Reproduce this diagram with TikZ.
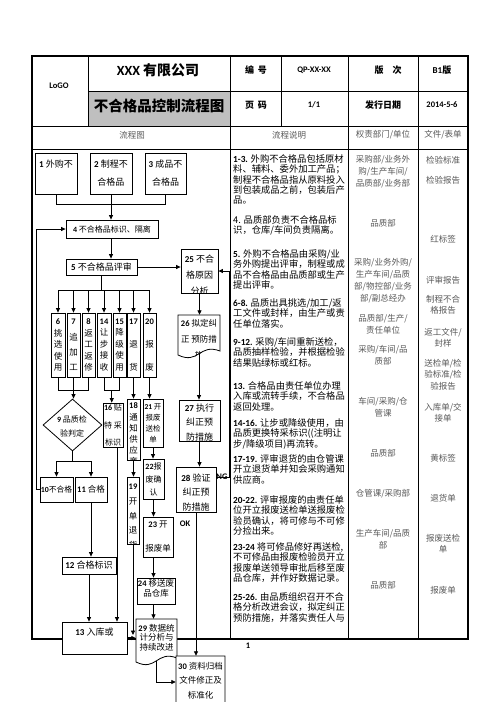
\documentclass[tikz,border=0pt]{standalone}
\usepackage{fontspec}
\setmainfont{Noto Sans CJK SC}
\newfontfamily\lat{Carlito}
\usetikzlibrary{arrows.meta,calc,shapes.geometric}
\newcommand\nb[1]{{\lat\bfseries #1}}
\newcommand\fs[2]{\fontsize{#1}{#2}\selectfont}
\newcommand\docpath[4]{(#1,#2) -- (#3,#2) -- (#3,#4-4) .. controls ({(#1+#3)/2},#4-12) and ({(#1+#3)/2},#4+10) .. (#1,#4) -- cycle}
\newcommand\boxlines[5]{\foreach \t [count=\i from 0] in {#5} \node[txt, font=#4] at (#1, #2+#3*\i) {\t};}
\begin{document}
\begin{tikzpicture}[x=1pt,y=-1pt,
  tl/.style={line width=0.9pt},
  box/.style={draw, fill=white, line width=0.8pt, inner sep=0pt, align=center},
  hid/.style={inner sep=0pt},
  arr/.style={line width=0.8pt, -{Triangle[length=4.5pt,width=4pt]}},
  ln/.style={line width=0.8pt},
  txt/.style={inner sep=0pt, align=center},
  desc/.style={anchor=north west, inner sep=0pt, align=left, font=\fs{9.3}{10.3}},
  dept/.style={anchor=north, inner sep=0pt, align=center, text=black!65, font=\fs{8.5}{12}},
  fil/.style={anchor=north, inner sep=0pt, align=center, text=black!65, font=\fs{8.5}{11.5}},
  colh/.style={inner sep=0pt, text=black!65, font=\fs{8.5}{10}},
  hd/.style={inner sep=0pt, font=\bfseries\fs{9}{10}},
  hdl/.style={inner sep=0pt, font=\lat\bfseries\fs{8.5}{10}},
]
\useasboundingbox (0,0) rectangle (496,702);
\clip (0,0) rectangle (496,702);
\fill[white] (0,0) rectangle (496,702);

% ---------- table ----------
\fill[black!25] (88,91) rectangle (230,126);
\draw[tl] (88,91) -- (468,91);
\draw[tl] (32,126) -- (468,126);
\draw[tl] (32,149) -- (468,149);
\draw[tl] (88,56) -- (88,126);
\draw[tl] (230,56) -- (230,639);
\draw[tl] (281,56) -- (281,126);
\draw[tl] (348,56) -- (348,639);
\draw[tl] (418,56) -- (418,639);
\draw[line width=1.2pt] (32,56) rectangle (468,639);

\node[hdl] (logo) at (59,86) {LoGO};
\node[inner sep=0pt, font=\bfseries\fs{14}{15}] (company) at (158,70) {{\lat XXX} 有限公司};
\node[inner sep=0pt, font=\bfseries\fs{14.5}{16}] (title) at (159,106) {不合格品控制流程图};
\node[hd] (bh) at (256,70) {编\hspace{4pt}号};
\node[hdl] (bn) at (314,70) {QP-XX-XX};
\node[hd] (vh) at (388,70) {版\hspace{9pt}次};
\node[hd] (vn) at (442,70) {{\lat B1}版};
\node[hd] (ph) at (256,105) {页\hspace{4pt}码};
\node[hdl] (pn) at (314,105) {1/1};
\node[hd] (dh) at (383,105) {发行日期};
\node[hdl] (dn) at (442,105) {2014-5-6};

\node[colh] (ch1) at (132,135) {流程图};
\node[colh] (ch2) at (289,135) {流程说明};
\node[colh] (ch3) at (383,135) {权责部门/单位};
\node[colh] (ch4) at (443,135) {文件/表单};

% ---------- description ----------
\node[desc] (d1) at (233,154.4) {\nb{1-3.} 外购不合格品包括原材\\料、辅料、委外加工产品；\\制程不合格品指从原料投入\\到包装成品之前，包装后产\\品。};
\node[desc] (d2) at (233,215.4) {4. 品质部负责不合格品标\\识，仓库/车间负责隔离。};
\node[desc] (d3) at (233,249.4) {\nb{5.} 外购不合格品由采购/业\\务外购提出评审，制程或成\\品不合格品由品质部或生产\\提出评审。};
\node[desc] (d4) at (233,298.4) {\nb{6-8.} 品质出具挑选/加工/返\\工文件或封样，由生产或责\\任单位落实。};
\node[desc] (d5) at (233,337.4) {\nb{9-12.} 采购/车间重新送检，\\品质抽样检验，并根据检验\\结果贴绿标或红标。};
\node[desc] (d6) at (233,381.4) {\nb{13.} 合格品由责任单位办理\\入库或流转手续，不合格品\\返回处理。};
\node[desc] (d7) at (233,418.4) {\nb{14-16.} 让步或降级使用，由\\品质更换特采标识((注明让\\步/降级项目)再流转。};
\node[desc] (d8) at (233,454.4) {\nb{17-19.} 评审退货的由仓管课\\开立退货单并知会采购通知\\供应商。};
\node[desc] (d9) at (233,495.4) {\nb{20-22.} 评审报废的由责任单\\位开立报废送检单送报废检\\验员确认，将可修与不可修\\分捡出来。};
\node[desc] (d10) at (233,542.4) {\nb{23-24} 将可修品修好再送检,\\不可修品由报废检验员开立\\报废单送领导审批后移至废\\品仓库，并作好数据记录。};
\node[desc] (d11) at (233,592.4) {\nb{25-26.} 由品质组织召开不合\\格分析改进会议，拟定纠正\\预防措施，并落实责任人与};

% ---------- departments ----------
\node[dept] (r1) at (383,154.8) {采购部/业务外\\购/生产车间/\\品质部/业务部};
\node[dept] (r2) at (383,218.8) {品质部};
\node[dept] (r3) at (383,257.8) {采购/业务外购/\\生产车间/品质\\部/物控部/业务\\部/副总经办};
\node[dept] (r4) at (383,313.8) {品质部/生产/\\责任单位};
\node[dept] (r5) at (383,344.8) {采购/车间/品\\质部};
\node[dept] (r6) at (383,396.8) {车间/采购/仓\\管课};
\node[dept] (r7) at (383,448.8) {品质部};
\node[dept] (r8) at (383,488.8) {仓管课/采购部};
\node[dept] (r9) at (383,528.8) {生产车间/品质\\部};
\node[dept] (r10) at (383,580.8) {品质部};

% ---------- files ----------
\node[fil] (f1) at (443,155.8) {检验标准};
\node[fil] (f2) at (443,175.8) {检验报告};
\node[fil] (f3) at (443,234.8) {红标签};
\node[fil] (f4) at (443,275.8) {评审报告};
\node[fil] (f5) at (443,294.8) {制程不合\\格报告};
\node[fil] (f6) at (443,327.8) {返工文件/\\封样};
\node[fil] (f7) at (443,358.8) {送检单/检\\验标准/检\\验报告};
\node[fil] (f8) at (443,402.8) {入库单/交\\接单};
\node[fil] (f9) at (443,453.8) {黄标签};
\node[fil] (f10) at (443,493.8) {退货单};
\node[fil] (f11) at (443,533.8) {报废送检\\单};
\node[fil] (f12) at (443,585.8) {报废单};

% ---------- flowchart boxes ----------
\node[box, minimum width=42, minimum height=41, font=\fs{9}{18}] (b1) at (56,173.5) {\nb{1} 外购不\\\phantom{合}};
\node[box, minimum width=42, minimum height=41, font=\fs{9}{18}] (b2) at (111,173.5) {\nb{2} 制程不\\合格品};
\node[box, minimum width=41, minimum height=41, font=\fs{9}{18}] (b3) at (165.5,173.5) {\nb{3} 成品不\\合格品};
\node[box, minimum width=92, minimum height=18, font=\fs{8}{10}] (b4) at (112,229) {\nb{4} 不合格品标识、隔离};
\node[box, minimum width=71, minimum height=16, font=\fs{9}{10}] (b5) at (101.5,267) {\nb{5} 不合格品评审};
\node[box, minimum width=37, minimum height=44] (b25) at (199.5,271) {};
\begin{scope}\clip (b25.north west) rectangle (b25.south east);
\boxlines{199.5}{259}{16}{\fs{9}{10}}{\nb{25} 不合,格原因,分析}
\end{scope}

\node[box, minimum width=14, minimum height=64, font=\fs{8.5}{11.5}] (b6) at (58,345) {\nb{6}\\挑\\选\\使\\用};
\node[box, minimum width=13, minimum height=64, font=\fs{8.5}{15.3}] (b7) at (73.5,345) {\nb{7}\\追\\加\\工};
\node[box, minimum width=13, minimum height=64, font=\fs{8.5}{11.5}] (b8) at (88.5,345) {\nb{8}\\返\\工\\返\\修};
\node[box, minimum width=14, minimum height=64, font=\fs{8.5}{11.5}] (b14) at (104,345) {\nb{14}\\让\\步\\接\\收};
\node[box, minimum width=13, minimum height=64, font=\fs{8.5}{11.5}] (b15) at (119.5,345) {\nb{15}\\降\\级\\使\\用};
\node[box, minimum width=13, minimum height=64, font=\fs{8.5}{23}] (b17) at (133.5,345) {\nb{17}\\退\\货};
\node[box, minimum width=13, minimum height=64, font=\fs{8.5}{23}] (b20) at (149.5,345) {\nb{20}\\报\\废};

\node[hid, minimum width=42, minimum height=39] (b26) at (199,334.5) {};
\draw[ln, fill=white] \docpath{178}{315}{220}{355};
\begin{scope}\clip \docpath{178}{315}{220}{355};
\boxlines{199}{323}{16}{\fs{8.5}{10}}{\nb{26} 拟定纠,正 预防措,施}
\end{scope}

\node[draw, fill=white, line width=0.8pt, diamond, inner sep=0pt, minimum width=59, minimum height=52] (b9) at (72.5,425) {};
\boxlines{72}{419}{14}{\fs{8}{10}}{\nb{9} 品质检,验判定}

\node[box, minimum width=20, minimum height=44, font=\fs{8}{17.5}] (b16) at (113,425) {\nb{16} 贴\\特 采\\标识};
\node[box, minimum width=13, minimum height=61] (b18) at (133.5,429.5) {};
\begin{scope}\clip (b18.north west) rectangle (b18.south east);
\boxlines{133.5}{406}{11}{\fs{8.5}{10}}{\nb{18},通,知,供,应,商}
\end{scope}
\node[box, minimum width=20, minimum height=48, font=\fs{7.5}{11}] (b21) at (153,423) {\nb{21} 开\\报废\\送检\\单};
\node[box, minimum width=41, minimum height=41] (b27) at (199.5,420.5) {};
\begin{scope}\clip (b27.north west) rectangle (b27.south east);
\boxlines{199.5}{408}{14.5}{\fs{9}{10}}{\nb{27} 执行,纠正预,防措施}
\end{scope}

\node[box, minimum width=33, minimum height=25, font=\fs{7.8}{10}] (b10) at (56.5,489.5) {\nb{10}不合格};
\node[box, minimum width=32, minimum height=25, font=\fs{8.5}{10}] (b11) at (91,489.5) {\nb{11} 合格};
\node[box, minimum width=12, minimum height=67] (b19) at (133,510.5) {};
\begin{scope}\clip (b19.north west) rectangle (b19.south east);
\boxlines{133}{487}{14.5}{\fs{8.5}{10}}{\nb{19},开,单,退,货}
\end{scope}
\node[box, minimum width=21, minimum height=40, font=\fs{8}{13}] (b22) at (153.5,479) {\nb{22}报\\废确\\认};
\node[box, minimum width=40, minimum height=45] (b28) at (196,489.5) {};
\begin{scope}\clip (b28.north west) rectangle (b28.south east);
\boxlines{196}{478}{14.5}{\fs{9}{10}}{\nb{28} 验证,纠正预,防措施}
\end{scope}

\node[box, minimum width=30, minimum height=40, font=\fs{8.5}{12}] (b23) at (158,537) {\nb{23} 开\\\\报废单};
\node[box, minimum width=54, minimum height=17, font=\fs{9}{10}] (b12) at (89,565.5) {\nb{12} 合格标识};
\node[box, minimum width=38, minimum height=26] (b24) at (156,591) {};
\boxlines{156}{583}{10}{\fs{8.5}{10}}{\nb{24} 移送废,品仓库}
\node[box, minimum width=65, minimum height=32] (b13) at (94.5,638) {};
\boxlines{94.5}{632}{0}{\fs{9}{10}}{\nb{13} 入库或}

\node[hid, minimum width=41, minimum height=42] (b29) at (156.5,640) {};
\draw[ln, fill=white] \docpath{136}{619}{177}{662};
\boxlines{156.5}{628}{9.5}{\fs{8.5}{10}}{\nb{29} 数据统,计分析与,持续改进}

\node[hid, minimum width=49, minimum height=52] (b30) at (200.5,682) {};
\draw[ln, fill=white] \docpath{176}{656}{225}{712};
\begin{scope}\clip \docpath{176}{656}{225}{712};
\boxlines{200.5}{666}{14.5}{\fs{8.5}{10}}{\nb{30} 资料归档,文件修正及,标准化}
\end{scope}

% ---------- connectors ----------
\draw[ln] (b1.south) -- ++(0,10) -| (b3.south);
\draw[arr] (b2.south) -- (b2.south |- b4.north);
\draw[arr] (b2.south |- b4.south) -- (b2.south |- b5.north);
\coordinate (bus) at (101.5,290);
\draw[ln] (b5.south) -- (bus);
\draw[ln] (b6.north |- bus) -- (b20.north |- bus);
\foreach \n in {b6,b7,b8,b14,b15,b17,b20} \draw[arr] (\n.north |- bus) -- (\n.north);
\draw[arr] (b5.east) -- (b5.east -| b25.west);
\draw[ln] (b6.south) -- ++(0,13) -| (b8.south);
\draw[arr] (b7.south) -- (b7.south |- b9.north);
\draw[ln] (b14.south) -- ++(0,13) -| (b15.south);
\coordinate (m1415) at ($(b14.south)!0.5!(b15.south)+(0,13)$);
\draw[arr] (m1415) -- (m1415 |- b16.north);
\draw[arr] (b17.south) -- (b17.south |- b18.north);
\draw[arr] (b20.south) -- (b20.south |- b21.north);
\draw[arr] (b25.south) -- (b25.south |- b26.north);
\draw[arr] (b26.south) -- (b26.south |- b27.north);
\draw[arr] (b27.south) -- (b27.south |- b28.north);
\coordinate (ngc) at (229,477);
\draw[arr] (b28.east |- ngc) -- (ngc) |- (b25.east);
\node[hdl] (ng) at (222,477) {NG};
\draw[arr] (b28.south) -- (b28.south |- b30.north);
\node[hdl] (ok) at (185,524) {OK};
\draw[ln] (b9.south) -- ++(0,10) coordinate (d9);
\draw[ln] (b10.north |- d9) -- (b11.north |- d9);
\draw[arr] (b10.north |- d9) -- (b10.north);
\draw[arr] (b11.north |- d9) -- (b11.north);
\draw[arr] (b10.west) -- ++(-3,0) |- (b4.west);
\draw[arr] (b11.south) -- (b11.south |- b12.north);
\draw[arr] (b12.south) -- (b12.south |- b13.north);
\coordinate (s16) at ($(b16.south)+(4,0)$);
\draw[arr] (s16) -- (s16 |- b13.north);
\draw[arr] (b18.south) -- (b18.south |- b19.north);
\draw[arr] (b19.south) -- ($(b19.south |- b13.east)+(0,-3)$);
\draw[arr, line width=1.6pt] (b13.east) -- (b13.east -| b29.west);
\draw[arr] (b21.south) -- (b21.south |- b22.north);
\draw[arr] (b22.south) -- (b22.south |- b23.north);
\draw[arr] (b22.south |- b23.south) -- (b22.south |- b24.north);
\draw[arr] (b22.south |- b24.south) -- (b22.south |- b29.north);
\draw[arr] (b29.south) |- (b30.west);

\node[hdl] (pg) at (248,646) {1};
\end{tikzpicture}
\end{document}
